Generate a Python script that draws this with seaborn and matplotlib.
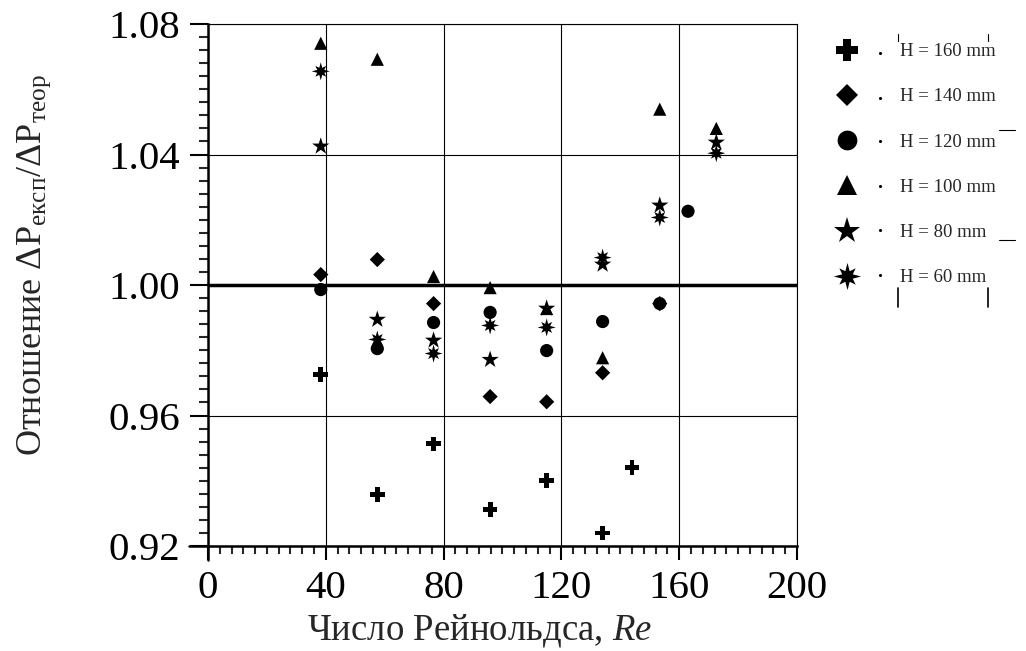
import numpy as np
import pandas as pd
import matplotlib
matplotlib.use("Agg")
import matplotlib.pyplot as plt
import seaborn as sns
from matplotlib.ticker import MultipleLocator
from matplotlib.lines import Line2D

sns.set_theme(style="white")
plt.rcParams['font.family'] = ['Liberation Serif', 'DejaVu Serif']
plt.rcParams['mathtext.fontset'] = 'custom'
plt.rcParams['mathtext.rm'] = 'Liberation Serif'
plt.rcParams['mathtext.it'] = 'Liberation Serif:italic'

# ---- data ----
re_160 = [38.3, 57.5, 76.6, 95.8, 115.0, 134.0, 144.0]
v_160 = [0.9725, 0.9357, 0.9513, 0.9311, 0.9400, 0.9240, 0.9440]

re_140 = [38.3, 57.5, 76.6, 95.8, 115.0, 134.0, 153.4]
v_140 = [1.0032, 1.0078, 0.9943, 0.9658, 0.9642, 0.9731, 0.9943]

re_120 = [38.3, 57.5, 76.6, 95.8, 115.0, 134.0, 153.4, 163.0]
v_120 = [0.9986, 0.9805, 0.9885, 0.9916, 0.9799, 0.9888, 0.9943, 1.0226]

re_100 = [38.3, 57.5, 76.6, 95.8, 115.0, 134.0, 153.4, 172.6]
v_100 = [1.0741, 1.0692, 1.0026, 0.9992, 0.9928, 0.9777, 1.0539, 1.0480]

re_80 = [38.3, 57.5, 76.6, 95.8, 115.0, 134.0, 153.4, 172.6]
v_80 = [1.0425, 0.9894, 0.9830, 0.9771, 0.9928, 1.0063, 1.0244, 1.0437]

re_60 = [38.3, 57.5, 76.6, 95.8, 115.0, 134.0, 153.4, 172.6]
v_60 = [1.0655, 0.9833, 0.9790, 0.9876, 0.9870, 1.0084, 1.0207, 1.0404]

labels = ["H = 160 mm", "H = 140 mm", "H = 120 mm",
          "H = 100 mm", "H = 80 mm", "H = 60 mm"]
series = [(re_160, v_160), (re_140, v_140), (re_120, v_120),
          (re_100, v_100), (re_80, v_80), (re_60, v_60)]

x_ticks = [0, 40, 80, 120, 160, 200]
y_ticks = [0.92, 0.96, 1.00, 1.04, 1.08]
y_tick_labels = ["0.92", "0.96", "1.00", "1.04", "1.08"]

rows = []
for lab, (xs, ys) in zip(labels, series):
    for xv, yv in zip(xs, ys):
        rows.append({"Re": xv, "ratio": yv, "H": lab})
df = pd.DataFrame(rows)

# asterisk-like burst marker
ang = np.linspace(0, 2 * np.pi, 16, endpoint=False) + np.pi / 2
rad = np.array([1.0 if i % 4 == 0 else (0.85 if i % 2 == 0 else 0.42) for i in range(16)])
burst = [(r * np.cos(a), r * np.sin(a)) for r, a in zip(rad, ang)]

markers = {
    "H = 160 mm": "P",
    "H = 140 mm": "D",
    "H = 120 mm": "o",
    "H = 100 mm": "^",
    "H = 80 mm": "*",
    "H = 60 mm": burst,
}
sizes_map = {"H = 160 mm": 110, "H = 140 mm": 60, "H = 120 mm": 90,
             "H = 100 mm": 90, "H = 80 mm": 170, "H = 60 mm": 170}

fig = plt.figure(figsize=(10.26, 6.51), dpi=100)
ax = fig.add_axes([0.2027, 0.1613, 0.5741, 0.8018])

ax.grid(True, which="major", color="black", linewidth=0.8)
ax.axhline(1.0, color="black", linewidth=2.5, zorder=1.5)

sns.scatterplot(data=df, x="Re", y="ratio", style="H", style_order=labels,
                markers=markers, size="H", sizes=sizes_map, size_order=labels,
                color="black", edgecolor="black", linewidth=0, ax=ax, zorder=3)

ax.set_xlim(0, 200)
ax.set_ylim(0.92, 1.08)
ax.set_xticks(x_ticks)
ax.set_xticklabels([str(t) for t in x_ticks])
ax.set_yticks(y_ticks)
ax.set_yticklabels(y_tick_labels)
ax.xaxis.set_minor_locator(MultipleLocator(4))
ax.yaxis.set_minor_locator(MultipleLocator(0.004))

ax.tick_params(axis="x", which="major", direction="out", length=10, width=1.5,
               labelsize=29.5, pad=7, bottom=True, colors="black")
ax.tick_params(axis="x", which="minor", direction="out", length=6, width=1.5, bottom=True)
ax.tick_params(axis="y", which="major", direction="out", length=13, width=1.5,
               labelsize=29.5, pad=7, left=True, colors="black")
ax.tick_params(axis="y", which="minor", direction="out", length=6.5, width=1.5, left=True)

for s in ["left", "bottom"]:
    ax.spines[s].set_linewidth(1.8)
    ax.spines[s].set_color("black")
for s in ["top", "right"]:
    ax.spines[s].set_linewidth(0.8)
    ax.spines[s].set_color("black")

# axis line extensions (Origin style)
ax.plot([0, 0], [0, -0.027], transform=ax.transAxes, color="black", lw=1.8, clip_on=False)
ax.plot([0, -0.032], [0, 0], transform=ax.transAxes, color="black", lw=1.8, clip_on=False)

ax.set_xlabel("Число Рейнольдса, $\\mathit{Re}$", fontsize=26.5, labelpad=2)
ax.xaxis.set_label_coords(0.461, -0.127)
ax.set_ylabel("Отношение $\\Delta\\mathrm{P}_{\\mathrm{експ}}/\\Delta\\mathrm{P}_{\\mathrm{теор}}$",
              fontsize=26)
ax.yaxis.set_label_coords(-0.263, 0.538)

sns.move_legend(ax, loc="upper left", bbox_to_anchor=(1.04, 0.978), title=None,
                frameon=False, fontsize=13.5, markerscale=1.5, labelspacing=1.5,
                handletextpad=1.85, borderaxespad=0)

# leftover legend-frame fragments seen in the original figure
for xf in (0.8752, 0.9630):
    fig.add_artist(Line2D([xf, xf], [0.937, 0.948], color="black", lw=0.8))
    fig.add_artist(Line2D([xf, xf], [0.528, 0.558], color="black", lw=1.2))
fig.add_artist(Line2D([0.974, 0.989], [0.800, 0.800], color="black", lw=0.8))
fig.add_artist(Line2D([0.974, 0.989], [0.631, 0.631], color="black", lw=0.8))
dot_y = [0.919, 0.849, 0.783, 0.714, 0.647, 0.578]
fig.add_artist(Line2D([0.8577] * len(dot_y), dot_y, linestyle="none", marker="o",
                      markersize=1.2, color="black"))

fig.savefig("out.png", dpi=100)
